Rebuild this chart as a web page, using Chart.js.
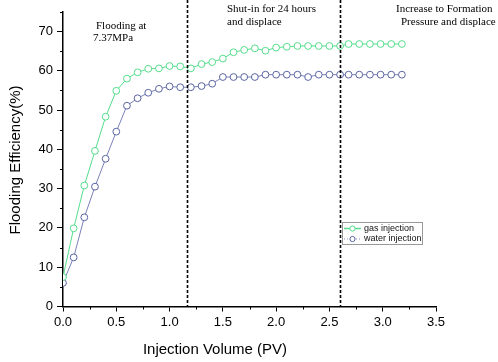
<!DOCTYPE html>
<html>
<head>
<meta charset="utf-8">
<script src="https://cdn.jsdelivr.net/npm/chart.js@4.4.0/dist/chart.umd.min.js"></script>
<style>
  html, body { margin: 0; padding: 0; background: #fff; }
</style>
</head>
<body>
<canvas id="chartFlooding" width="498" height="362"></canvas>
<script>
// data
const injectionVolume = [0, 0.1, 0.2, 0.3, 0.4, 0.5, 0.6, 0.7, 0.8, 0.9, 1.0, 1.1, 1.2, 1.3, 1.4, 1.5, 1.6, 1.7, 1.8, 1.9, 2.0, 2.1, 2.2, 2.3, 2.4, 2.5, 2.6, 2.68, 2.78, 2.88, 2.98, 3.08, 3.18];
const gasInjection = [7.5, 19.9, 30.8, 39.6, 48.3, 54.9, 58.0, 59.6, 60.5, 60.6, 61.2, 61.1, 60.6, 61.7, 62.2, 63.1, 64.7, 65.3, 65.7, 65.1, 65.9, 66.1, 66.3, 66.3, 66.3, 66.3, 66.3, 66.8, 66.8, 66.8, 66.8, 66.8, 66.8];
const waterInjection = [6.0, 12.5, 22.7, 30.5, 37.6, 44.5, 51.1, 53.0, 54.4, 55.4, 56.0, 55.8, 55.8, 56.1, 56.7, 58.4, 58.4, 58.4, 58.4, 59.0, 59.0, 59.0, 59.0, 58.4, 59.0, 59.0, 59.0, 59.0, 59.0, 59.0, 59.0, 59.0, 59.0];
const stageBounds = [1.16, 2.6];
const xTicks = [0, 0.5, 1.0, 1.5, 2.0, 2.5, 3.0, 3.5];
const yTicks = [0, 10, 20, 30, 40, 50, 60, 70];
const xMinor = [0.25, 0.75, 1.25, 1.75, 2.25, 2.75, 3.25];
const yMinor = [5, 15, 25, 35, 45, 55, 65, 75];
const seriesNames = ['gas injection', 'water injection'];

const GREEN = '#55dc8c';
const BLUE = '#5a64a0';
const SANS = "'Liberation Sans', Arial, sans-serif";
const SERIF = "'Liberation Serif', 'Times New Roman', serif";

const toPoints = ys => injectionVolume.map((x, i) => ({ x: x, y: ys[i] }));

// extra drawing: stage lines, minor ticks, titles, notes, legend box
const decorations = {
  id: 'decorations',
  afterDraw(chart) {
    const c = chart.ctx;
    const xs = chart.scales.x, ys = chart.scales.y;
    const area = chart.chartArea;
    c.save();

    // dashed stage boundaries
    c.strokeStyle = '#000';
    c.lineWidth = 1.6;
    c.setLineDash([3, 2]);
    stageBounds.forEach(v => {
      const px = Math.round(xs.getPixelForValue(v)) + 0.5;
      c.beginPath();
      c.moveTo(px, 0);
      c.lineTo(px, area.bottom);
      c.stroke();
    });
    c.setLineDash([]);

    // minor ticks
    c.lineWidth = 1;
    xMinor.forEach(v => {
      const px = Math.round(xs.getPixelForValue(v)) + 0.5;
      c.beginPath();
      c.moveTo(px, area.bottom);
      c.lineTo(px, area.bottom + 3);
      c.stroke();
    });
    yMinor.forEach(v => {
      const py = Math.round(ys.getPixelForValue(v)) + 0.5;
      c.beginPath();
      c.moveTo(area.left, py);
      c.lineTo(area.left - 3, py);
      c.stroke();
    });

    // axis titles
    c.fillStyle = '#000';
    c.font = '15px ' + SANS;
    c.textAlign = 'center';
    c.textBaseline = 'middle';
    c.fillText('Injection Volume (PV)', 215, 350);
    c.save();
    c.translate(16, 160);
    c.rotate(-Math.PI / 2);
    c.fillText('Flooding Efficiency(%)', 0, 0);
    c.restore();

    // stage notes
    c.font = '11px ' + SERIF;
    c.textAlign = 'left';
    c.textBaseline = 'alphabetic';
    c.fillText('Flooding at', 96, 29);
    c.fillText('7.37MPa', 93, 41);
    c.fillText('Shut-in for 24 hours', 227, 12);
    c.fillText('and displace', 227, 25);
    c.fillText('Increase to Formation', 396, 12);
    c.fillText('Pressure and displace', 401, 25);

    // legend
    c.fillStyle = '#fff';
    c.fillRect(342, 222, 80, 22);
    c.strokeStyle = '#999';
    c.lineWidth = 1;
    c.strokeRect(342.5, 222.5, 80, 22);
    const rows = [
      { y: 228.5, color: GREEN, dash: [], w: 1.5 },
      { y: 239, color: '#8a90c0', dash: [1, 2], w: 1 }
    ];
    rows.forEach((r, i) => {
      c.strokeStyle = r.color;
      c.lineWidth = r.w;
      c.setLineDash(r.dash);
      c.beginPath();
      c.moveTo(344, r.y);
      c.lineTo(361, r.y);
      c.stroke();
      c.setLineDash([]);
      c.fillStyle = '#fff';
      c.strokeStyle = i === 0 ? GREEN : BLUE;
      c.lineWidth = 1;
      c.beginPath();
      c.arc(352.5, r.y, 2.6, 0, Math.PI * 2);
      c.fill();
      c.stroke();
      c.fillStyle = '#111';
      c.font = '9px ' + SANS;
      c.textBaseline = 'middle';
      c.fillText(seriesNames[i], 364, r.y);
    });

    c.restore();
  }
};

const ctx = document.getElementById('chartFlooding');
new Chart(ctx, {
  type: 'line',
  data: {
    datasets: [{
      label: seriesNames[0],
      data: toPoints(gasInjection),
      borderColor: GREEN,
      borderWidth: 1,
      backgroundColor: '#fff',
      pointBorderColor: GREEN,
      pointBackgroundColor: '#fff',
      pointRadius: 3.4,
      pointBorderWidth: 1,
      tension: 0
    }, {
      label: seriesNames[1],
      data: toPoints(waterInjection),
      borderColor: '#7a82b8',
      borderWidth: 1,
      backgroundColor: '#fff',
      pointBorderColor: BLUE,
      pointBackgroundColor: '#fff',
      pointRadius: 3.4,
      pointBorderWidth: 1,
      tension: 0
    }]
  },
  options: {
    responsive: false,
    animation: false,
    devicePixelRatio: 1,
    layout: { padding: { top: 8, right: 62, left: 0, bottom: 0 } },
    plugins: {
      legend: { display: false },
      tooltip: { enabled: false }
    },
    scales: {
      x: {
        type: 'linear',
        min: 0,
        max: 3.5,
        afterBuildTicks: s => { s.ticks = xTicks.map(v => ({ value: v })); },
        afterFit: s => { s.height = 55.5; },
        ticks: {
          color: '#000',
          font: { family: SANS, size: 13 },
          padding: 3,
          maxRotation: 0,
          callback: v => Number(v).toFixed(1)
        },
        grid: { drawOnChartArea: false, drawTicks: true, tickLength: 5, color: '#000', tickWidth: 1 },
        border: { display: true, color: '#000', width: 1.5 }
      },
      y: {
        min: 0,
        max: 75,
        afterBuildTicks: s => { s.ticks = yTicks.map(v => ({ value: v })); },
        afterFit: s => { s.width = 63; },
        ticks: {
          color: '#000',
          font: { family: SANS, size: 13 },
          padding: 4
        },
        grid: { drawOnChartArea: false, drawTicks: true, tickLength: 6, color: '#000', tickWidth: 1 },
        border: { display: true, color: '#000', width: 1.5 }
      }
    }
  },
  plugins: [decorations]
});
</script>
</body>
</html>
